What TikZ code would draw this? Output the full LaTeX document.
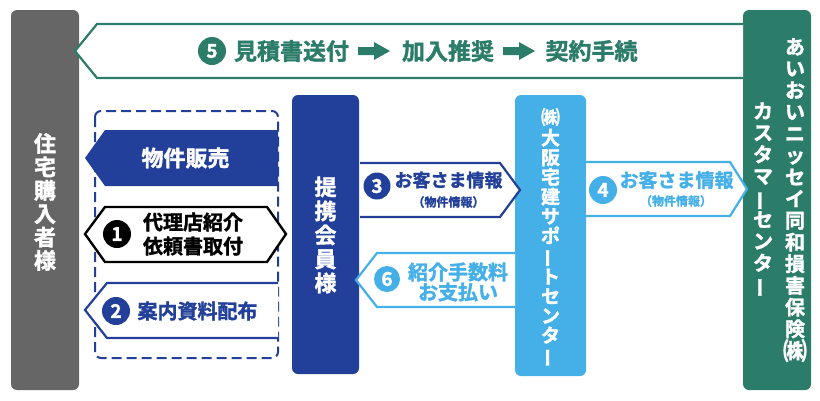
\documentclass[tikz,border=0pt]{standalone}
\usepackage{fontspec}
\setmainfont{Noto Sans CJK JP}[BoldFont={Noto Sans CJK JP Bold}, BoldFeatures={FakeBold=1.6}]
\usepackage{graphicx}
\definecolor{cgray}{HTML}{666666}
\definecolor{cgreen}{HTML}{2C7C6A}
\definecolor{cblue}{HTML}{22409A}
\definecolor{clight}{HTML}{45B0E8}
\newcommand\vbar{\rotatebox[origin=c]{90}{ー}}
\tikzset{
  pillar/.style={rounded corners=6, inner sep=0, minimum width=68, text=white, font=\bfseries},
  numdisc/.style={circle, inner sep=0, minimum size=27, text=white, font=\fontsize{19}{19}\selectfont\bfseries},
  lbl/.style={inner sep=0, font=\bfseries, align=center},
  flow/.style={line width=2.2, fill=white, line join=miter},
}
\begin{document}
\begin{tikzpicture}[x=1pt,y=-1pt]
\useasboundingbox (0,0) rectangle (820,400);
% pillars
\node[pillar, fill=cgray, minimum height=380] (buyer) at (45,200) {};
\node[pillar, fill=cgreen, minimum height=380] (aioi) at (777,200) {};
\node[pillar, fill=cblue, minimum width=67, minimum height=279] (member) at (325.5,234.5) {};
\node[pillar, fill=clight, minimum width=71, minimum height=281] (osaka) at (550.5,235.5) {};
% dashed group
\draw[cblue, line width=2, dash pattern=on 10 off 5, rounded corners=6] (95,111) rectangle (278,358);
% arrow 5
\draw[flow, draw=cgreen] (743,24) -- (97,24) -- (75,51) -- (97,78) -- (743,78);
% sale arrow
\fill[cblue] (278,130) -- (105,130) -- (85,158) -- (105,186) -- (278,186) -- cycle;
% arrow 1
\draw[flow, draw=black, line width=2.4] (105,207) -- (267,207) -- (286,234) -- (267,262) -- (105,262) -- (85,234) -- cycle;
% arrow 2
\draw[flow, draw=cblue] (278,283) -- (107,283) -- (85,310) -- (107,338) -- (278,338);
% arrow 3
\draw[flow, draw=cblue] (360,163) -- (500,163) -- (520,190) -- (500,217) -- (360,217);
% arrow 6
\draw[flow, draw=clight] (515,253) -- (377,253) -- (356,280) -- (377,307) -- (515,307);
% arrow 4
\draw[flow, draw=clight] (586,162) -- (730,162) -- (747,189) -- (730,216) -- (586,216);
% small arrows in top band
\fill[cgreen] (358,47) -- (374,47) -- (374,42) -- (390,51) -- (374,60) -- (374,55) -- (358,55) -- cycle;
\fill[cgreen] (503,47) -- (519,47) -- (519,42) -- (535,51) -- (519,60) -- (519,55) -- (503,55) -- cycle;

% vertical texts
\node[lbl, text=white, font=\fontsize{22}{23.4}\selectfont\bfseries] (buyertxt) at (45,202) {住\\宅\\購\\入\\者\\様};
\node[lbl, text=white, font=\fontsize{22}{24}\selectfont\bfseries] (membertxt) at (325.5,235) {提\\携\\会\\員\\様};
\node[lbl, text=white, font=\fontsize{19}{19.6}\selectfont\bfseries, anchor=north] (osakatxt) at (550.5,108) {{\fontsize{19}{14}\selectfont ㈱}\\[1pt]大\\阪\\宅\\建\\サ\\ポ\\\vbar\\ト\\セ\\ン\\タ\\\vbar};
\node[lbl, text=white, font=\fontsize{20}{21.7}\selectfont\bfseries] (aioi1) at (795,200) {あ\\い\\お\\い\\ニ\\ッ\\セ\\イ\\同\\和\\損\\害\\保\\険\\{\fontsize{24}{21.7}\selectfont ㈱}};
\node[lbl, text=white, font=\fontsize{20}{21.7}\selectfont\bfseries] (aioi2) at (763,200) {カ\\ス\\タ\\マ\\\vbar\\セ\\ン\\タ\\\vbar};

% top band text
\node[numdisc, fill=cgreen, minimum size=28] (n5) at (212,51) {5};
\node[lbl, text=cgreen, font=\fontsize{23}{23}\selectfont\bfseries] (t5a) at (291.5,51) {見積書送付};
\node[lbl, text=cgreen, font=\fontsize{23}{23}\selectfont\bfseries] (t5b) at (448,51) {加入推奨};
\node[lbl, text=cgreen, font=\fontsize{23}{23}\selectfont\bfseries] (t5c) at (591.5,51) {契約手続};

% sale
\node[lbl, text=white, font=\fontsize{22}{22}\selectfont\bfseries] (sale) at (185.5,158) {物件販売};
% 1
\node[numdisc, fill=black, minimum size=28] (n1) at (117,234) {1};
\node[lbl, text=black, font=\fontsize{20}{24}\selectfont\bfseries] (t1) at (193,234) {代理店紹介\\依頼書取付};
% 2
\node[numdisc, fill=cblue, minimum size=28] (n2) at (116,311) {2};
\node[lbl, text=cblue, font=\fontsize{20}{20}\selectfont\bfseries] (t2) at (197.5,311) {案内資料配布};
% 3
\node[numdisc, fill=cblue] (n3) at (377,186) {3};
\node[lbl, text=cblue, font=\fontsize{18}{18}\selectfont\bfseries] (t3) at (448.5,180) {お客さま情報};
\node[lbl, text=cblue, font=\fontsize{12}{12}\selectfont\bfseries] (t3s) at (448.5,202) {（物件情報）};
% 4
\node[numdisc, fill=clight, minimum size=28] (n4) at (603,190) {4};
\node[lbl, text=clight, font=\fontsize{19}{19}\selectfont\bfseries] (t4) at (676.5,180) {お客さま情報};
\node[lbl, text=clight, font=\fontsize{12}{12}\selectfont\bfseries] (t4s) at (676,201) {（物件情報）};
% 6
\node[numdisc, fill=clight, minimum size=26] (n6) at (387,279) {6};
\node[lbl, text=clight, font=\fontsize{20}{20}\selectfont\bfseries] (t6a) at (458,272) {紹介手数料};
\node[lbl, text=clight, font=\fontsize{20}{20}\selectfont\bfseries] (t6b) at (458,292) {お支払い};
\end{tikzpicture}
\end{document}
